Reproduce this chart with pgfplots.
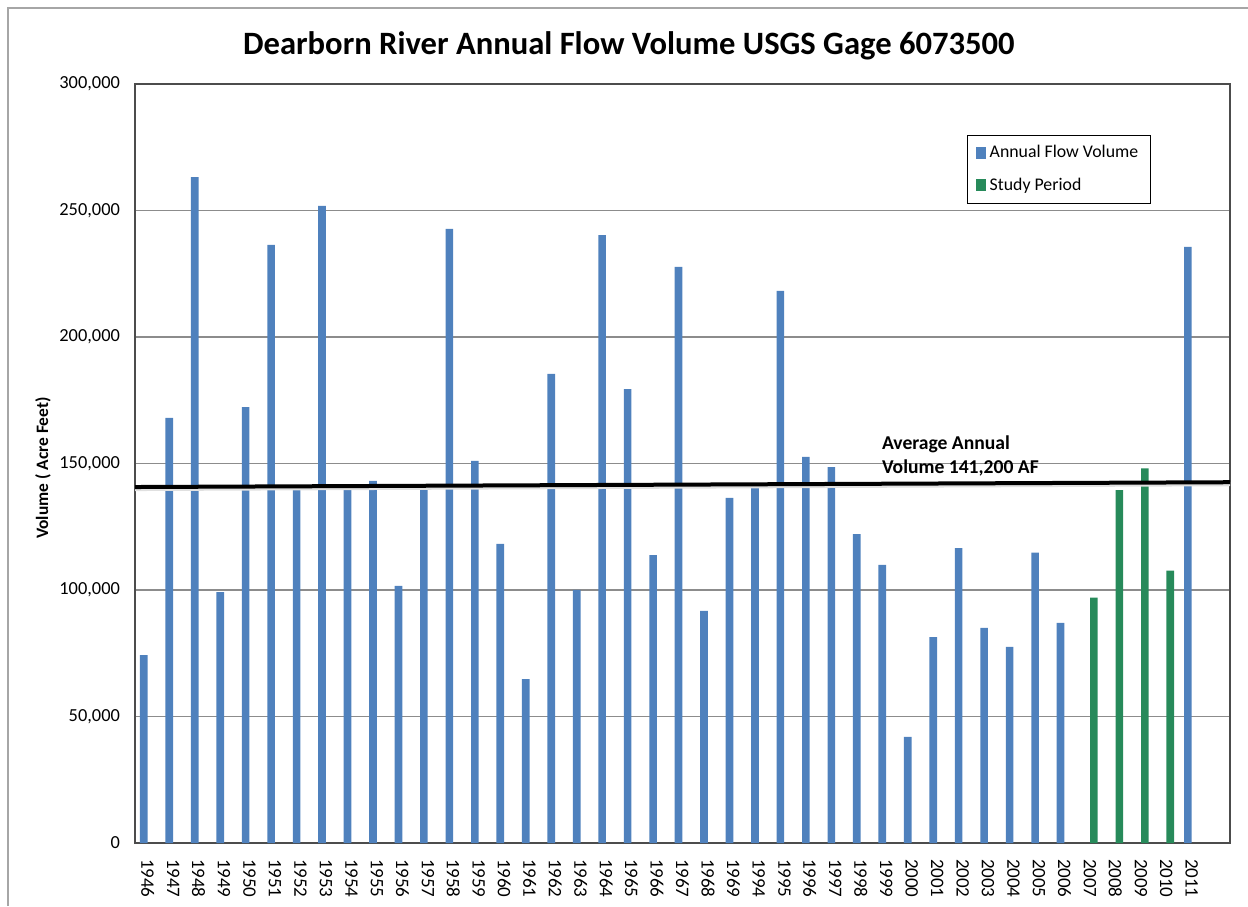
\documentclass[border=0pt]{standalone}
\usepackage{fontspec}
\setmainfont{Carlito}
\usepackage{pgfplots}
\pgfplotsset{compat=1.18}
\definecolor{barblue}{RGB}{79,129,189}
\definecolor{bargreen}{RGB}{39,138,90}
\begin{document}
\begin{tikzpicture}[x=1pt,y=1pt]
\useasboundingbox (0,0) rectangle (624,453);
\draw[black!35, line width=0.8pt] (4,0) -- (4,449) -- (624,449);
\begin{axis}[
  at={(67.5pt,31.5pt)}, anchor=south west,
  scale only axis, width=547.5pt, height=379.5pt,
  xmin=-0.5, xmax=42.5, ymin=0, ymax=300000,
  ytick={0,50000,100000,150000,200000,250000,300000},
  scaled y ticks=false,
  /pgf/number format/assume math mode=true,
  yticklabel style={/pgf/number format/fixed, /pgf/number format/1000 sep={,},
    font=\fontsize{9.2}{10}\selectfont, anchor=east, xshift=-4pt},
  xtick={0,1,...,41},
  xticklabels={1946,1947,1948,1949,1950,1951,1952,1953,1954,1955,1956,1957,1958,1959,1960,1961,1962,1963,1964,1965,1966,1967,1968,1969,1994,1995,1996,1997,1998,1999,2000,2001,2002,2003,2004,2005,2006,2007,2008,2009,2010,2011},
  xticklabel style={rotate=-90, anchor=west, xshift=4.5pt, font=\fontsize{9.5}{11}\selectfont},
  major tick length=0pt,
  ymajorgrids,
  grid style={black!45, line width=0.6pt},
  axis line style={black!70, line width=1pt},
  title={Dearborn River Annual Flow Volume USGS Gage 6073500},
  title style={font=\fontsize{16.3}{18}\selectfont\bfseries, at={(axis description cs:0.451,1.034)}, anchor=center},
  ylabel={Volume ( Acre Feet)},
  ylabel style={font=\fontsize{8.7}{10}\selectfont\bfseries, at={(axis description cs:-0.084,0.494)}, anchor=center},
  legend style={at={(0.760,0.933)}, anchor=north west, draw=black, line width=0.5pt,
    font=\fontsize{8.9}{10}\selectfont, row sep=4.5pt, inner xsep=4pt, inner ysep=3pt},
  legend cell align=left,
  legend image code/.code={\fill[#1, draw=none] (0pt,-3pt) rectangle (5pt,3pt);},
]
\addplot[ybar, bar width=0.3, bar shift=-0.155, fill=barblue, draw=none] coordinates {
(0,74300) (1,168000) (2,263200) (3,99200) (4,172300) (5,236400) (6,140700) (7,251800)
(8,140700) (9,143100) (10,101600) (11,140300) (12,242700) (13,151000) (14,118200) (15,64800)
(16,185400) (17,100000) (18,240300) (19,179400) (20,113800) (21,227700) (22,91700) (23,136400)
(24,140300) (25,218200) (26,152600) (27,148600) (28,122100) (29,109900) (30,41900) (31,81400)
(32,116600) (33,85000) (34,77500) (35,114800) (36,87000) (41,235600)};
\addlegendentry{Annual Flow Volume}
\addplot[ybar, bar width=0.3, bar shift=0.155, fill=bargreen, draw=none] coordinates {
(37,97000) (38,139500) (39,148100) (40,107700)};
\addlegendentry{Study Period}
\addplot[forget plot, draw=black!12, line width=2pt] coordinates {(-0.5,139900) (42.5,141800)};
\addplot[forget plot, draw=black, line width=2pt] coordinates {(-0.5,140700) (42.5,142600)};
\node[anchor=west, align=left, inner sep=0pt, font=\fontsize{9.8}{11.7}\selectfont\bfseries]
  at (axis cs:28.82,153000) {Average Annual\\Volume 141,200 AF};
\end{axis}
\end{tikzpicture}
\end{document}
